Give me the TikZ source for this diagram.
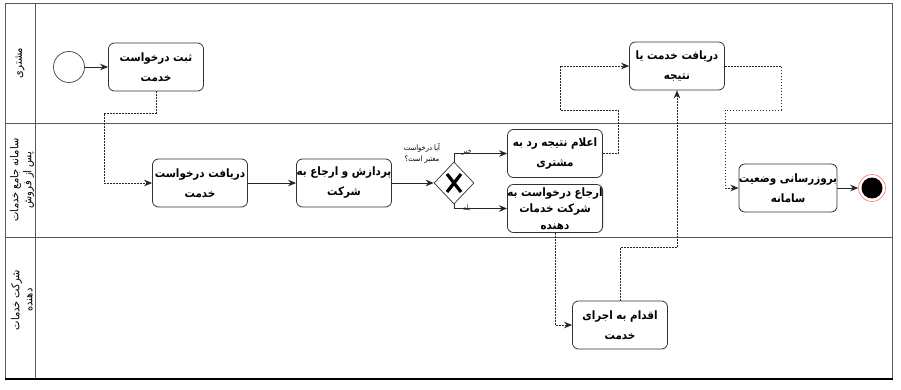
\documentclass[tikz,border=0pt]{standalone}
\usepackage{fontspec}
\usepackage{tikz}
\usetikzlibrary{positioning,arrows.meta,shapes.geometric}
\newfontfamily\arabicfont[Script=Arabic, FakeStretch=0.9]{DejaVu Sans}
\TeXXeTstate=1
\newcommand{\fatxt}[1]{{\arabicfont\beginR #1\endR}}

\begin{document}
\begin{tikzpicture}[x=1pt, y=-1pt, >={Stealth[length=8pt,width=6.5pt]},
		task/.style={draw=black!80, rounded corners=6pt, line width=0.8pt, minimum width=95pt, minimum height=48pt, align=center, inner xsep=0pt, inner ysep=1pt, font=\fontsize{11.5}{20}\selectfont\bfseries},
		flow/.style={->, line width=0.8pt, black!85},
		msg/.style={->, line width=0.7pt, black!85, dash pattern=on 1.6pt off 1.4pt},
		lane/.style={draw=black!65, line width=0.8pt},
		lanetext/.style={rotate=90, align=center, font=\fontsize{11}{13}\selectfont},
		small/.style={font=\fontsize{7.5}{11}\selectfont, align=center, inner sep=0pt}]
		\useasboundingbox (0,0) rectangle (901,390);
		
		% pool and lanes
		\draw[lane] (5,3) rectangle (892,379);
		\draw[lane] (35,3) -- (35,379);
		\draw[lane] (5,123) -- (892,123);
		\draw[lane] (5,237) -- (892,237);
		\draw[black, line width=1.4pt] (5,379) -- (893,379);
		\node[lanetext] (l1) at (20,63) {\fatxt{مشتری}};
		\node[lanetext] (l2) at (22,180) {\fatxt{سامانه جامع خدمات}\\\fatxt{پس از فروش}};
		\node[lanetext] (l3) at (22,300) {\fatxt{شرکت خدمات}\\\fatxt{دهنده}};
		
		% events, tasks, gateway
		\node[circle, draw=black!75, line width=0.7pt, minimum size=31pt] (start) at (69,67) {};
		\node[task] (t1) at (156,67) {\fatxt{ثبت درخواست}\\\fatxt{خدمت}};
		\node[task] (t2) at (200,183) {\fatxt{دریافت درخواست}\\\fatxt{خدمت}};
		\node[task] (t3) at (344,183) {\fatxt{پردازش و ارجاع به}\\\fatxt{شرکت}};
		\node[diamond, draw=black!80, line width=0.7pt, minimum width=40pt, minimum height=42pt, inner sep=0pt] (gw) at (454,183) {};
		\draw[line width=3.2pt] (gw.center) ++(-7,-9) -- ++(14,18);
		\draw[line width=3.2pt] (gw.center) ++(7,-9) -- ++(-14,18);
		\node[small] (q) at (422,153) {\fatxt{آیا درخواست}\\\fatxt{معتبر است؟}};
		\node[task] (t4) at (555,153.5) {\fatxt{اعلام نتیجه رد به}\\\fatxt{مشتری}};
		\node[task, font=\fontsize{11.5}{16.5}\selectfont\bfseries] (t5) at (555,208.5) {\fatxt{ارجاع درخواست به}\\\fatxt{شرکت خدمات}\\\fatxt{دهنده}};
		\node[task] (t6) at (677,66) {\fatxt{دریافت خدمت یا}\\\fatxt{نتیجه}};
		\node[task] (t7) at (620,325) {\fatxt{اقدام به اجرای}\\\fatxt{خدمت}};
		\node[task] (t8) at (788,188) {\fatxt{بروزرسانی وضعیت}\\\fatxt{سامانه}};
		\node[circle, draw=red!55, line width=0.6pt, minimum size=27pt] (end) at (872,188) {};
		\node[circle, fill=black, minimum size=21pt, inner sep=0pt] (endin) at (end) {};
		
		% bends
		\coordinate (b1) at (104,113);
		\coordinate (b2) at (618,110);
		\coordinate (b3) at (560,66);
		\coordinate (b4) at (781,110);
		\coordinate (b5) at (725,110);
		
		% sequence flows
		\draw[flow] (start) -- (t1);
		\draw[flow] (t2) -- (t3);
		\draw[flow] (t3) -- (gw);
		\draw[flow] (gw.north) |- node[small, pos=0.62, above=-2pt] {\fatxt{خیر}} (t4.west);
		\draw[flow] (gw.south) |- node[small, pos=0.62] {\fatxt{بله}} (t5.west);
		\draw[flow] (t8) -- (end);
		
		% message flows
		\draw[msg] (t1.south) |- (b1) |- (t2.west);
		\draw[msg] (t4.east) -| (b2) -| (b3) -- (t6.west);
		\draw[msg] (t6.east) -| (b4) -- (b5) |- (t8.west);
		\draw[msg] (t5.south) |- (t7.west);
		\draw[msg] (t7.north) -- ++(0,-53) -| (t6.south);
	\end{tikzpicture}
\end{document}
